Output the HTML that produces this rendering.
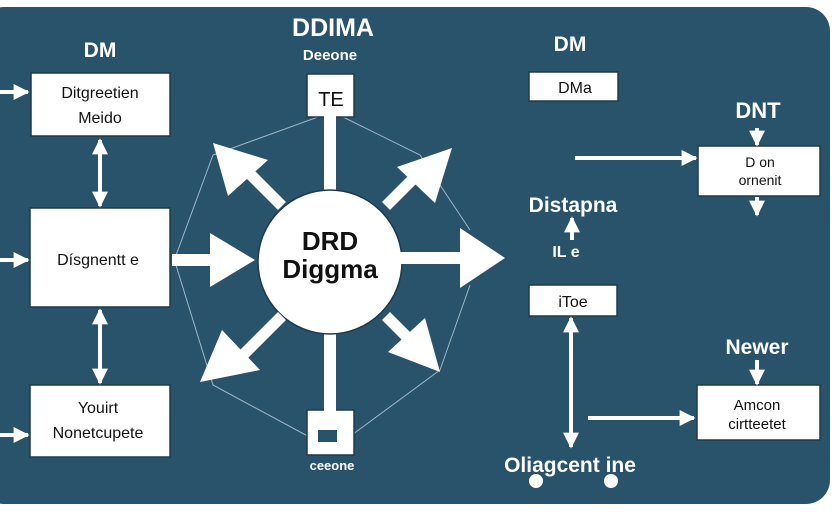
<!DOCTYPE html>
<html><head><meta charset="utf-8"><style>
html,body{margin:0;padding:0;background:#fff;width:832px;height:512px;overflow:hidden}
svg{display:block}
text{font-family:"Liberation Sans",sans-serif}
</style></head><body>
<svg width="832" height="512" viewBox="0 0 832 512">
<defs>
<marker id="ah" viewBox="0 0 10 10" refX="9" refY="5" markerWidth="4" markerHeight="4" orient="auto-start-reverse"><path d="M0,0 L10,5 L0,10 z" fill="#fff"/></marker>
</defs>
<rect x="-20" y="7" width="850" height="497" rx="24" fill="#29526b"/>
<g stroke="#9fb8c8" stroke-width="1" fill="none">
<path d="M175,258 L213,155 L318,117 M343,117 L420,155 L470,230 M470,285 L440,370 L345,440 M315,440 L213,385 L175,262"/>
</g>
<g fill="#fff" font-weight="bold" text-anchor="middle">
<text x="100" y="57" font-size="21">DM</text>
<text x="333" y="36" font-size="25">DDIMA</text>
<text x="330" y="60" font-size="15">Deeone</text>
<text x="570" y="51" font-size="21">DM</text>
<text x="758" y="118" font-size="22">DNT</text>
<text x="573" y="212" font-size="21">Distapna</text>
<text x="566" y="257" font-size="16">IL e</text>
<text x="757" y="354" font-size="21">Newer</text>
<text x="570" y="472" font-size="21">Oliagcent ine</text>
<text x="332" y="470" font-size="13">ceeone</text>
</g>
<g fill="#fff" stroke="#1d3a4c" stroke-width="1.5">
<rect x="31" y="73" width="139" height="63"/>
<rect x="30" y="208" width="140" height="99"/>
<rect x="30" y="385" width="140" height="72"/>
<rect x="307" y="74" width="47" height="43"/>
<rect x="307" y="410" width="47" height="45"/>
<rect x="529" y="72" width="89" height="29"/>
<rect x="698" y="146" width="122" height="50"/>
<rect x="529" y="285" width="88" height="31"/>
<rect x="697" y="385" width="123" height="55"/>
</g>
<rect x="318" y="430" width="19" height="12" fill="#29526b"/>
<g fill="#fff">
<rect x="324" y="115" width="12" height="80"/>
<rect x="324" y="330" width="12" height="84"/>
<circle cx="330" cy="262" r="72" stroke="#1d3a4c" stroke-width="1.5"/>
<rect x="400" y="252" width="65" height="12"/>
<path d="M460,228 L505,258 L460,288 z"/>
<rect x="172" y="254" width="42" height="12"/>
<path d="M210,233 L255,260 L210,287 z"/>
<path d="M278,210 L238,170 L246,162 L286,202 z"/><path d="M213,143 L268,160 L228,196 z"/>
<path d="M382,202 L422,162 L430,170 L390,210 z"/><path d="M452,148 L435,203 L397,167 z"/>
<path d="M278,312 L238,352 L246,360 L286,320 z"/><path d="M200,382 L260,370 L222,330 z"/>
<path d="M382,320 L422,360 L430,352 L390,312 z"/><path d="M440,372 L425,318 L388,352 z"/>
<circle cx="536" cy="481" r="7"/><circle cx="611" cy="481" r="7"/>
</g>
<g stroke="#fff" stroke-width="4" fill="none" marker-end="url(#ah)">
<line x1="0" y1="92" x2="28" y2="92"/>
<line x1="0" y1="260" x2="28" y2="260"/>
<line x1="0" y1="435" x2="28" y2="435"/>
<line x1="100" y1="140" x2="100" y2="206" marker-start="url(#ah)"/>
<line x1="100" y1="310" x2="100" y2="383" marker-start="url(#ah)"/>
<line x1="575" y1="158" x2="696" y2="158"/>
<line x1="757" y1="128" x2="757" y2="145"/>
<line x1="757" y1="197" x2="757" y2="215"/>
<line x1="572" y1="240" x2="572" y2="218"/>
<line x1="571" y1="318" x2="571" y2="447" marker-start="url(#ah)"/>
<line x1="757" y1="360" x2="757" y2="384"/>
<line x1="588" y1="418" x2="694" y2="418"/>
</g>
<g fill="#111" text-anchor="middle">
<text x="100" y="98" font-size="16">Ditgreetien</text>
<text x="100" y="123" font-size="16">Meido</text>
<text x="98" y="265" font-size="16">Dísgnentt e</text>
<text x="98" y="413" font-size="16">Youirt</text>
<text x="98" y="438" font-size="16">Nonetcupete</text>
<text x="331" y="106" font-size="20">TE</text>
<text x="330" y="250" font-size="26" font-weight="bold">DRD</text>
<text x="330" y="278" font-size="26" font-weight="bold">Diggma</text>
<text x="575" y="93" font-size="16">DMa</text>
<text x="760" y="167" font-size="14">D on</text>
<text x="760" y="185" font-size="14">ornenit</text>
<text x="573" y="307" font-size="16">iToe</text>
<text x="757" y="410" font-size="15">Amcon</text>
<text x="757" y="429" font-size="15">cirtteetet</text>
</g>
</svg>
</body></html>
